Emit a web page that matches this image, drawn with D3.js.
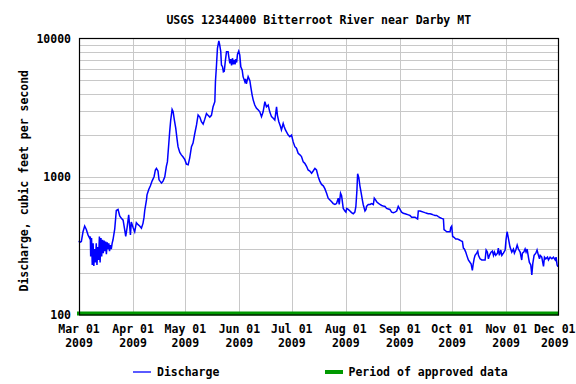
<!DOCTYPE html>
<html>
<head>
<meta charset="utf-8">
<script src="https://cdn.jsdelivr.net/npm/d3@7/dist/d3.min.js"></script>
<style>
  html, body { margin: 0; padding: 0; background: #fff; }
  svg { display: block; }
  text { font-family: "DejaVu Sans Mono", "Liberation Mono", monospace; font-weight: bold; font-size: 11.5px; fill: #000; }
</style>
</head>
<body>
<svg id="chart" width="576" height="384"></svg>
<script>
// ---- data (days after 2009-03-01, discharge in cubic feet per second) ----
const title = "USGS 12344000 Bitterroot River near Darby MT";
const yLabel = "Discharge, cubic feet per second";
const startDate = Date.UTC(2009, 2, 1);
const endDate = Date.UTC(2009, 11, 1);
const yTickValues = [100, 1000, 10000];
const yTickLabels = ["100", "1000", "10000"];
const yGridValues = [200,300,400,500,600,700,800,900,1000,2000,3000,4000,5000,6000,7000,8000,9000];
const monthLabels = ["Mar 01","Apr 01","May 01","Jun 01","Jul 01","Aug 01","Sep 01","Oct 01","Nov 01","Dec 01"];
const yearLabel = "2009";
const legendLabels = ["Discharge", "Period of approved data"];

const days = [
0,0.38,1.34,2.3,3.25,4.2,5.17,6.1,6.5,6.7,7.2,7.6,8.1,8.5,9.0,9.4,9.9,10.3,10.8,11.2,11.7,12.1,12.6,13.0,13.5,13.9,14.4,14.8,15.3,15.7,16.2,16.6,17.1,17.5,18.0,18.5,19.0,19.5,
20.5,21.4,22.4,23.35,24.3,25.3,26.2,26.8,27.6,28.5,29.5,30.0,31.0,31.95,32.9,33.9,34.8,35.8,36.7,37.3,37.7,38.7,39.0,40.0,40.95,41.9,43.05,43.8,44.4,45.3,45.9,47.3,48.2,49.2,50.1,50.7,51.5,52.0,52.6,53.4,53.96,54.7,55.5,56.3,56.8,57.8,58.7,59.7,60.7,61.6,62.6,63.5,64.5,65.4,66.4,67.4,
68.3,69.3,70.2,71.2,72.1,73.1,74.0,75.0,75.95,76.9,77.9,78.25,78.8,79.4,80.2,80.7,81.3,81.7,82.3,82.8,83.3,84.0,84.6,85.5,85.9,86.5,87.0,87.5,88.0,88.5,89.0,89.5,90.0,90.4,90.9,91.6,92.2,92.8,93.6,94.1,95.1,95.5,96.0,96.5,97.0,98.0,98.5,99.3,99.9,100.8,101.8,102.7,103.7,
104.66,105.6,106.6,107.5,108.5,109.4,110.4,111.4,112.3,113.3,113.8,114.6,115.6,116.1,117.1,117.7,118.4,119.0,120.0,120.9,121.9,122.8,123.8,124.7,125.7,126.7,127.6,128.6,129.5,130.5,131.4,132.4,133.4,134.3,135.3,136.2,137.2,
138.1,139.1,140.1,141.0,142.0,142.9,143.9,144.9,145.8,146.8,147.7,148.7,149.25,150.0,150.6,151.55,152.5,153.1,153.5,154.4,155.4,156.3,157.3,158.2,158.8,159.4,159.8,160.5,161.1,161.7,162.5,163.0,164.0,164.6,164.9,165.9,166.9,167.8,168.8,169.35,170.1,170.7,171.6,172.6,173.6,174.5,175.5,176.4,177.4,178.3,179.3,180.3,181.2,182.2,183.1,184.1,185.0,186.0,187.0,187.9,188.9,189.8,190.8,191.7,192.7,193.6,194.2,194.6,195.6,196.5,197.5,198.4,199.4,200.3,201.3,202.3,203.2,204.2,205.1,206.1,207.2,208.0,209.0,
209.35,209.9,210.9,211.8,212.8,213.2,213.75,214.3,215.1,216.05,217.0,218.0,218.9,219.9,220.45,221.0,221.8,222.4,223.3,224.3,224.85,225.6,226.0,226.6,227.15,228.1,228.7,229.1,230.0,231.0,231.9,232.9,233.5,234.2,234.8,235.4,236.3,237.1,237.7,238.25,239.0,240.0,240.5,241.1,241.9,242.5,243.4,244.4,244.9,245.5,245.9,246.5,247.2,248.2,249.15,249.7,250.5,251.3,252.0,253.0,253.9,254.3,255.1,255.85,256.4,257.0,257.8,258.3,259.1,259.7,260.25,261.0,262.0,262.7,263.5,264.1,264.5,265.4,266.4,266.95,267.7,268.7,269.25,270.2,271.2,272.1,273.1,273.6,274.2,274.6,274.9
];
const discharge = [
345,335,340,400,440,415,380,360,370,265,360,230,330,226,300,240,330,230,310,250,370,240,360,265,350,280,345,290,340,275,335,300,330,290,320,300,330,350,
420,570,580,520,500,485,415,370,430,530,380,470,430,400,465,450,440,425,460,510,570,680,740,810,860,930,1000,1120,1150,1100,950,900,930,1000,1190,1280,1740,2110,2570,3075,2970,2570,2240,1840,1650,1500,1440,1390,1330,1235,1220,1370,1650,1750,2055,2370,
2800,2700,2500,2400,2600,2870,2780,2700,2780,3210,3490,4870,6250,8500,9600,9000,8030,6440,6250,5750,5800,7000,8030,8030,7400,6600,7100,6400,7200,6500,7000,6500,7100,6700,7700,8100,7600,6250,5900,5300,4870,5100,4700,5000,5300,4950,4480,3900,3600,3300,3130,3050,2950,
2720,2950,3490,3200,3300,2950,2720,2650,2570,3200,2780,2500,2300,2180,2430,2300,2180,2110,2000,1950,2000,1795,1650,1610,1480,1440,1400,1280,1250,1190,1120,1100,1060,1100,1150,1120,1000,
930,880,860,820,760,700,680,660,640,630,640,700,630,760,730,590,565,555,590,580,565,550,540,555,610,800,1050,980,860,780,680,630,565,580,610,630,630,640,630,700,680,660,645,630,620,615,610,590,585,580,555,550,555,565,610,580,555,545,540,535,530,525,510,510,510,500,495,565,565,560,555,550,545,540,540,535,530,525,525,515,505,500,495,
415,410,400,400,400,430,440,370,365,355,355,350,345,340,305,300,285,270,250,240,235,210,230,255,270,280,290,270,255,250,250,250,295,285,255,270,285,290,270,285,270,280,305,270,295,270,280,295,350,400,380,345,310,285,300,280,295,320,300,285,250,280,285,300,285,300,260,240,230,195,235,270,280,295,270,255,270,262,225,262,255,262,250,262,255,262,250,262,230,225,225
];

// ---- layout ----
const svg = d3.select("#chart");
const W = 576;
const L = 79, R = 558.5, T = 38.5, B = 315;
const dayMs = 864e5;
const series = days.map((d, i) => ({ date: new Date(startDate + d * dayMs), v: discharge[i] }));

const x = d3.scaleUtc().domain([new Date(startDate), new Date(endDate)]).range([L, R]);
const y = d3.scaleLog().domain([100, 10000]).range([B, T]);
const monthTicks = d3.utcMonth.range(new Date(startDate), new Date(endDate + 1));

// gridlines
const grid = svg.append("g").attr("stroke", "#c8c8c8").attr("stroke-width", 1).attr("shape-rendering", "crispEdges");
grid.selectAll("line.h").data(yGridValues).join("line")
  .attr("x1", L).attr("x2", R)
  .attr("y1", d => Math.round(y(d)) + 0.5).attr("y2", d => Math.round(y(d)) + 0.5);
grid.selectAll("line.v").data(monthTicks.slice(1, -1)).join("line")
  .attr("x1", d => Math.round(x(d)) + 0.5).attr("x2", d => Math.round(x(d)) + 0.5)
  .attr("y1", T).attr("y2", B);

// approved period bar
svg.append("line")
  .attr("x1", x(new Date(startDate)) - 2).attr("x2", x(new Date(endDate)) + 0.5)
  .attr("y1", y(100) - 1.5).attr("y2", y(100) - 1.5)
  .attr("stroke", "#009900").attr("stroke-width", 4);

// discharge line
const line = d3.line().x(d => x(d.date)).y(d => y(d.v));
svg.append("path").datum(series)
  .attr("d", line)
  .attr("fill", "none").attr("stroke", "#0000ff").attr("stroke-width", 1.5)
  .attr("stroke-linejoin", "miter");

// frame
svg.append("rect").attr("x", L + 0.5).attr("y", T).attr("width", R - L - 0.5).attr("height", B - T)
  .attr("fill", "none").attr("stroke", "#000").attr("stroke-width", 1.2);

// y tick labels
svg.append("g").selectAll("text").data(yTickValues).join("text")
  .attr("x", 71).attr("y", d => y(d)).attr("dy", "0.35em")
  .attr("text-anchor", "end")
  .text((d, i) => yTickLabels[i]);

// x tick labels (kept inside the canvas)
const xl = svg.append("g").selectAll("g").data(monthTicks).join("g");
xl.append("text").attr("y", 333).attr("text-anchor", "middle").text((d, i) => monthLabels[i]);
xl.append("text").attr("y", 347).attr("text-anchor", "middle").text(yearLabel);
xl.each(function(d) {
  const g = d3.select(this);
  let maxW = 0;
  g.selectAll("text").each(function() { maxW = Math.max(maxW, this.getComputedTextLength()); });
  const cx = Math.min(x(d), W - 0.5 - maxW / 2);
  g.attr("transform", `translate(${cx},0)`);
});

// title
svg.append("text").attr("x", (L + R) / 2).attr("y", 24).attr("text-anchor", "middle").text(title);

// y label
svg.append("text").attr("transform", `translate(28,${(T + B) / 2 + 4}) rotate(-90)`)
  .attr("text-anchor", "middle").text(yLabel);

// legend
svg.append("line").attr("x1", 133).attr("x2", 151).attr("y1", 372).attr("y2", 372)
  .attr("stroke", "#0000ff").attr("stroke-width", 1.3);
svg.append("text").attr("x", 157).attr("y", 372).attr("dy", "0.35em").text(legendLabels[0]);
svg.append("rect").attr("x", 325).attr("y", 370).attr("width", 18).attr("height", 4).attr("fill", "#009900");
svg.append("text").attr("x", 348.5).attr("y", 372).attr("dy", "0.35em").text(legendLabels[1]);
</script>
</body>
</html>
